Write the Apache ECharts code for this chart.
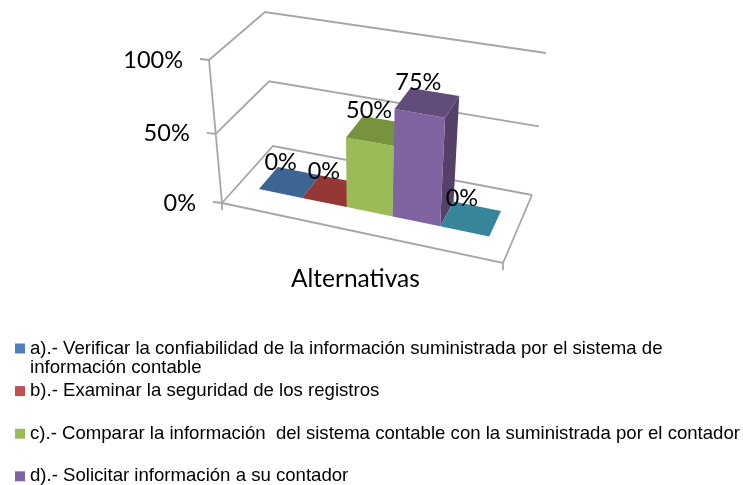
<!DOCTYPE html>
<html>
<head>
<meta charset="utf-8">
<style>html,body{margin:0;padding:0;background:#fff}#main{width:743px;height:485px}</style>
<script src="https://cdn.jsdelivr.net/npm/echarts@6/dist/echarts.min.js"></script>
</head>
<body>
<div id="main"></div>
<script>
// datos
var alternativas = [
    'a).- Verificar la confiabilidad de la información suministrada por el sistema de',
    'b).- Examinar la seguridad de los registros',
    'c).- Comparar la información  del sistema contable con la suministrada por el contador',
    'd).- Solicitar información a su contador',
    'e).-'
];
var valores = [0, 0, 50, 75, 0];
var yTicks = [0, 50, 100];
var legendItems = alternativas.slice(0, 4);
var colores = ['#4F81BD', '#C0504D', '#9BBB59', '#8064A2', '#4BACC6'];
var coloresTop = ['#3C6593', '#953735', '#77933C', '#624C7C', '#37859B'];
var colorSide = ['#2F4F75', '#732B29', '#5E752F', '#544069', '#2B6A7B'];

// caja 3D: esquinas del suelo y del plano superior (frente-izq, frente-der, fondo-der, fondo-izq)
var floorQuad = [[222, 203], [503, 263], [532, 195], [273, 146]];
var topQuad = [[209, 60], [515, 110], [546, 53], [265, 12]];
var barFront = 0.30, barBack = 0.68;
var xMin = -0.99, xMax = 4.96;
var FONT = '23.5px Lato, sans-serif';
var LINE = '#A6A6A6';

// homografia del cuadrado unidad al cuadrilatero
function homography(q) {
    var dx1 = q[1][0] - q[2][0], dx2 = q[3][0] - q[2][0], sx = q[0][0] - q[1][0] + q[2][0] - q[3][0];
    var dy1 = q[1][1] - q[2][1], dy2 = q[3][1] - q[2][1], sy = q[0][1] - q[1][1] + q[2][1] - q[3][1];
    var det = dx1 * dy2 - dx2 * dy1;
    var g = (sx * dy2 - dx2 * sy) / det, h = (dx1 * sy - sx * dy1) / det;
    var a = q[1][0] - q[0][0] + g * q[1][0], b = q[3][0] - q[0][0] + h * q[3][0];
    var d = q[1][1] - q[0][1] + g * q[1][1], e = q[3][1] - q[0][1] + h * q[3][1];
    return function (u, v) {
        var w = g * u + h * v + 1;
        return [(a * u + b * v + q[0][0]) / w, (d * u + e * v + q[0][1]) / w];
    };
}
var onFloor = homography(floorQuad);

// vector vertical de la caja en (u, v), interpolado entre las cuatro esquinas
function lean(u, v, k) {
    var d = function (i) { return topQuad[i][k] - floorQuad[i][k]; };
    return (1 - v) * ((1 - u) * d(0) + u * d(1)) + v * ((1 - u) * d(3) + u * d(2));
}

// dato (x, y) -> coord del eje -> proyeccion en la caja, con profundidad v
function project(api, params, x, v, y) {
    var c = api.coord([x, y]), s = params.coordSys;
    var u = (c[0] - s.x) / s.width;
    var h = (s.y + s.height - c[1]) / s.height;
    var f = h / (1 + 0.07 * (1 - h));
    var p0 = onFloor(u, v);
    return [p0[0] + f * lean(u, v, 0), p0[1] + f * lean(u, v, 1)];
}

function poly(points, color) {
    return {type: 'polygon', shape: {points: points}, style: {fill: color}};
}
function line(points) {
    return {type: 'polyline', shape: {points: points}, style: {fill: 'none', stroke: LINE, lineWidth: 1.8}};
}
function text(str, x, y, align) {
    return {type: 'text', style: {text: str, x: x, y: y, font: FONT, fill: '#000', align: align || 'center', verticalAlign: 'middle'}};
}

// rejilla, suelo, eje vertical
function renderFrame(params, api) {
    var t = api.value(1);
    var P = function (x, v, y) { return project(api, params, x, v, y); };
    var front = P(xMin, 0, t), back = P(xMin, 1, t), right = P(xMax, 1, t);
    var kids = [line([front, back, right])];
    kids.push(line([[front[0] - 9, front[1] - 1], front]));
    kids.push(text(t + '%', front[0] - 26, front[1], 'right'));
    if (t === 0) {
        var fr = P(xMax, 0, 0);
        kids.push(line([front, fr, right]));
        kids.push(line([front, [front[0], front[1] + 7]]));
        kids.push(line([fr, [fr[0], fr[1] + 7]]));
        kids.push(line([front, P(xMin, 0, yTicks[yTicks.length - 1])]));
    }
    return {type: 'group', children: kids};
}

// barra: caras frontal, lateral y superior + etiqueta
function renderBar(i) {
    return function (params, api) {
        var x = api.value(0), y = api.value(1);
        var P = function (xx, v, yy) { return project(api, params, xx, v, yy); };
        var x0 = x - 0.5, x1 = x + 0.5;
        var kids = [];
        var tFL = P(x0, barFront, y), tFR = P(x1, barFront, y), tBR = P(x1, barBack, y), tBL = P(x0, barBack, y);
        if (y > 0) {
            kids.push(poly([P(x1, barFront, 0), P(x1, barBack, 0), tBR, tFR], colorSide[i]));
            kids.push(poly([P(x0, barFront, 0), P(x1, barFront, 0), tFR, tFL], colores[i]));
        }
        kids.push(poly([tFL, tFR, tBR, tBL], coloresTop[i]));
        var cx = (tFL[0] + tFR[0] + tBR[0] + tBL[0]) / 4, cy = (tFL[1] + tFR[1] + tBR[1] + tBL[1]) / 4;
        kids.push(text(y + '%', cx - 9, cy - 20));
        return {type: 'group', children: kids};
    };
}

var series = [{
    type: 'custom',
    name: 'marco',
    renderItem: renderFrame,
    data: yTicks.map(function (t) { return [0, t]; }),
    clip: false,
    silent: true
}];
alternativas.forEach(function (nombre, i) {
    series.push({
        type: 'custom',
        name: nombre,
        renderItem: renderBar(i),
        data: [[i, valores[i]]],
        itemStyle: {color: colores[i]},
        clip: false,
        silent: true
    });
});

var myChart = echarts.init(document.getElementById('main'));
var option = {
    animation: false,
    backgroundColor: '#fff',
    color: colores,
    title: {
        text: 'Alternativas',
        left: 291,
        top: 267,
        padding: 0,
        textStyle: {fontFamily: 'Lato, sans-serif', fontSize: 24.5, fontWeight: 'normal', color: '#000'}
    },
    grid: {left: 200, top: 20, width: 340, height: 180, containLabel: false},
    xAxis: {type: 'value', min: xMin, max: xMax, show: false},
    yAxis: {type: 'value', min: 0, max: 100, interval: 50, show: false},
    legend: {
        orient: 'vertical',
        left: 15,
        top: 339,
        height: 170,
        padding: 0,
        itemWidth: 10,
        itemHeight: 10,
        itemGap: 23.6,
        icon: 'rect',
        selectedMode: false,
        data: legendItems,
        textStyle: {fontFamily: '"Liberation Sans", Arial, sans-serif', fontSize: 18.6, color: '#000', height: 18, lineHeight: 18}
    },
    graphic: [{
        type: 'text',
        left: 30,
        top: 358,
        style: {text: 'información contable', font: '18.6px "Liberation Sans", Arial, sans-serif', fill: '#000'}
    }],
    series: series
};
myChart.setOption(option);
</script>
</body>
</html>
